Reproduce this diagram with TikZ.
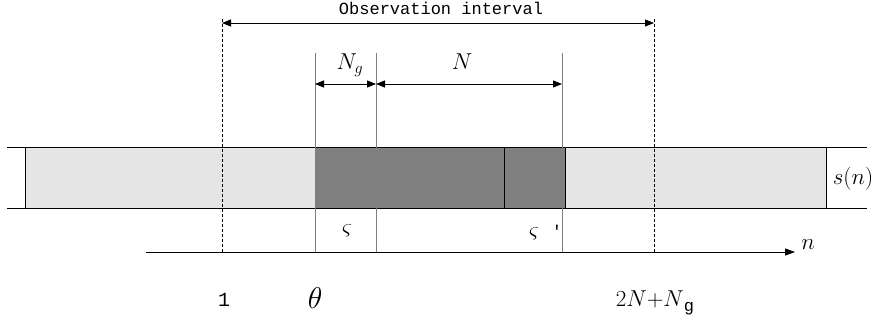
\RequirePackage{fix-cm}
\documentclass[tikz,border=0pt]{standalone}
\usepackage{fontspec}
\newfontfamily\monofnt{Liberation Mono}
\usetikzlibrary{arrows.meta}
\begin{document}
\begin{tikzpicture}[x=1pt,y=-1pt,
  guide/.style={draw=gray, line width=0.8pt},
  dashline/.style={draw=black, dash pattern=on 3pt off 2pt, line width=0.9pt},
  edge/.style={draw=black, line width=0.9pt},
  dimline/.style={draw=black, line width=0.8pt, {Triangle[length=9pt,width=7pt]}-{Triangle[length=9pt,width=7pt]}},
  axisline/.style={draw=black, line width=0.8pt, -{Triangle[length=10pt,width=7pt]}},
  lbl/.style={inner sep=0pt, anchor=base, font=\fontsize{23}{23}\selectfont},
  txt/.style={inner sep=0pt, anchor=base, font=\monofnt\fontsize{17}{17}\selectfont}]
\useasboundingbox (0,0) rectangle (878,323);
% strip
\fill[gray!20] (25,147) rectangle (826,208);
\fill[gray] (315,147) rectangle (565,208);
\draw[edge] (7,147) -- (867,147);
\draw[edge] (7,208) -- (867,208);
\foreach \x in {25,376,504,565,826} \draw[edge] (\x,147) -- (\x,208);
% coordinates
\coordinate (d1t) at (222,19); \coordinate (d1b) at (222,252);
\coordinate (d2t) at (654,19); \coordinate (d2b) at (654,252);
\coordinate (g1t) at (315,53); \coordinate (g1b) at (315,252);
\coordinate (g2t) at (376,53); \coordinate (g2b) at (376,252);
\coordinate (g3t) at (562,53); \coordinate (g3b) at (562,252);
\coordinate (o1) at (222,23); \coordinate (o2) at (654,23);
\coordinate (a1) at (315,84); \coordinate (a2) at (376,84); \coordinate (a3) at (562,84);
\coordinate (ax0) at (146,252); \coordinate (ax1) at (795,252);
% guides
\draw[guide] (g1t) -- (g1b);
\draw[guide] (g2t) -- (g2b);
\draw[guide] (g3t) -- (g3b);
\draw[dashline] (d1t) -- (d1b);
\draw[dashline] (d2t) -- (d2b);
% dimension arrows
\draw[dimline] (o1) -- (o2);
\draw[dimline] (a1) -- (a2);
\draw[dimline] (a2) -- (a3);
\draw[axisline] (ax0) -- (ax1);
% labels
\node[txt] (obs) at (441,15) {Observation interval};
\node[lbl] (ng) at (350,70) {$N_g$};
\node[lbl] (nn) at (462,70) {$N$};
\node[lbl] (sn) at (853,185) {$s(n)$};
\node[lbl] (zeta) at (347,234) {$\varsigma$};
\node[lbl] (zetap) at (534,237) {$\varsigma$};
\node[txt] (prime) at (557,237) {'};
\node[lbl] (nlab) at (808,249) {$n$};
\node[txt, font=\monofnt\fontsize{20}{20}\selectfont] (one) at (224,306) {1};
\node[lbl, font=\fontsize{30}{30}\selectfont] (theta) at (315,308) {$\theta$};
\node[lbl] (tot) at (655,306) {2$N$+$N$\raisebox{-5pt}{\monofnt\fontsize{17}{17}\selectfont g}};
\end{tikzpicture}
\end{document}
